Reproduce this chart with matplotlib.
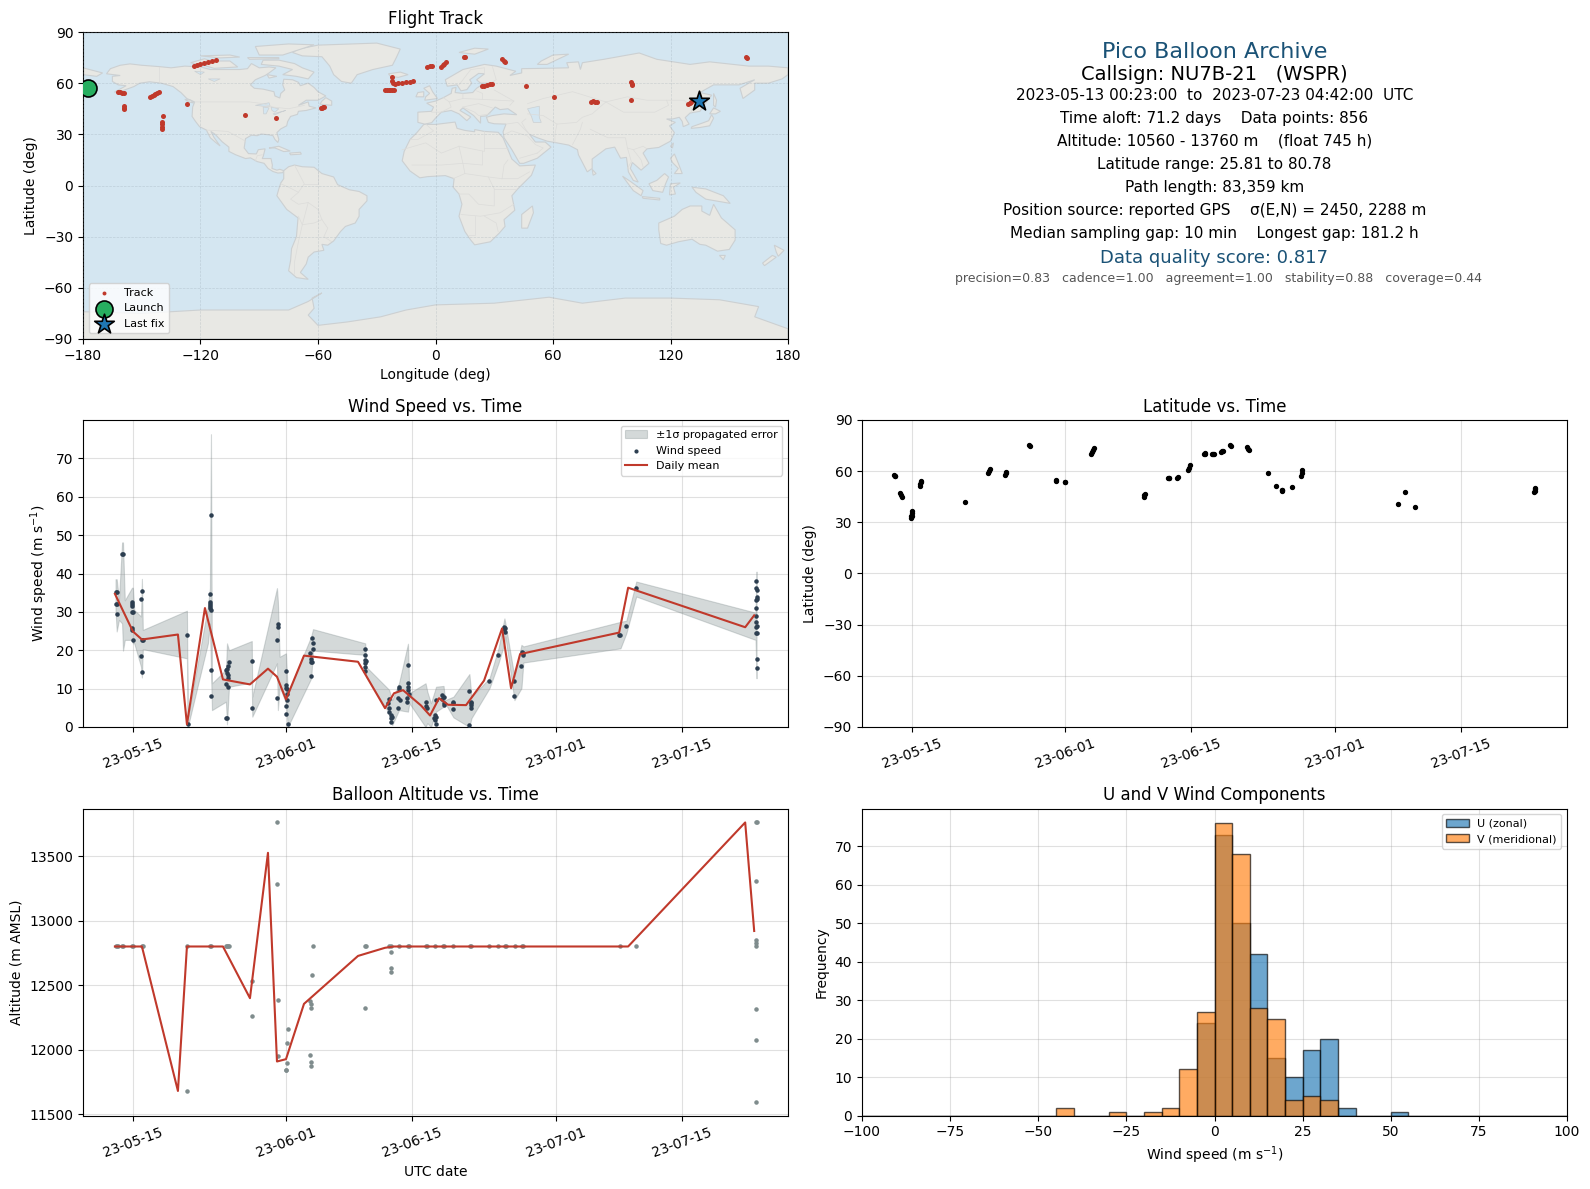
import datetime as dt
import matplotlib
matplotlib.use("Agg")
import matplotlib.pyplot as plt
import matplotlib.dates as mdates
from matplotlib.patches import Polygon
import numpy as np

W, H = 1590, 1189
BASE = mdates.date2num(dt.datetime(2023, 5, 1))
T0, T1 = 12.016, 83.196

# ---- wind (days after 2023-05-01, m/s)
wind_day = [12.07,12.2,12.07,12.2,12.2,12.8,12.9,13.9,13.9,13.9,13.9,14,13.9,13.9,14,14.9,15,14.9,15,15,15.1,20,20.1,
            22.67,22.55,22.55,22.55,22.55,22.55,22.67,22.67,22.67,24.33,24.55,24.67,24.45,24.55,24.33,24.55,24.33,24.45,24.55,24.45,
            27.2,27.2,30.1,30.1,30,30,31,31,31,31.1,31.1,31.1,31,31,31.2,33.67,33.9,34,34,33.8,33.8,33.9,33.8,
            39.8,39.8,39.8,39.9,39.8,39.8,39.8,42.45,42.33,42.45,42.45,42.67,42.8,42.67,42.67,43.45,43.45,43.55,43.55,43.67,
            44.55,44.55,44.55,44.55,44.67,44.45,44.45,46.6,46.6,46.7,
            47.55,47.67,47.45,47.55,47.67,47.67,48.37,48.5,48.37,48.5,48.5,49.6,49.6,49.6,51.37,51.6,51.5,51.6,51.5,51.37,
            53.6,54.6,55.26,55.37,55.26,55.37,56.37,56.37,57.15,57.26,57.37,57.37,68.04,68.15,68.8,69.9,
            83.15,83.15,83.26,83.15,83.26,83.26,83.15,83.15,83.15,83.26,83.15,83.15,83.26,83.26,83.26]
wind_spd = [35.1,35.1,32,32,29.4,45,45,32.5,32,31.5,29.9,29.9,25.7,25.2,22.6,33.3,35.4,18.4,14.3,22.6,22.6,23.9,0.7,
            55.2,34.6,32.5,32,31.5,31,30.4,14.8,8,14.8,15.8,16.9,14,12.7,11.1,10.5,2.3,2.3,13.5,15.2,
            17.1,4.9,26.8,26,22.6,7.5,14.5,10.9,10.1,9.8,8.5,7,5.4,3.3,0.7,19.2,23.1,21.8,20.3,17.7,16.9,16.9,13.2,
            20.3,18.7,17.5,17.1,16.6,15.6,14.5,7.2,6.2,4.9,4,3.1,2.7,2.3,1.2,4.9,7.5,10.3,9.8,7,
            16.1,11.4,10.5,9.7,8.5,7.5,6.6,6.6,5.4,4.9,
            3.1,2.7,2.3,1.8,0.7,7,8.3,7.9,7.4,6.2,5.7,6.6,6.2,4.6,9.3,6.6,6.2,5.7,4.9,0.4,
            11.9,18.7,26,25.7,25.5,24.7,11.9,8,15.8,19.5,19.2,18.7,23.9,23.9,26.3,36.2,
            38,36.2,35.7,33,33.8,33.3,31,28.9,27.3,26.3,26,24.4,24.4,17.7,15.3]

band_day = [12.07,12.2,12.45,12.8,12.9,13.1,13.9,14,14.15,14.9,15,15.1,20,20.1,22.33,22.55,22.67,22.78,24.33,24.45,24.67,
            27.2,27.26,30,30.1,30.3,31,31.2,33.8,34,39.8,39.9,42.45,42.8,43.55,44.55,44.7,46.5,46.7,
            47.1,47.67,48.5,48.67,49.6,51.37,51.6,53.6,54.6,55.26,55.37,56.37,57.15,57.37,68.15,68.8,69.9,83.15,83.26]
band_hi = [38.5,38.5,33.1,48.1,48.1,33,36.3,36.3,30.5,28.8,38.6,25.3,30.3,2.3,31.4,36.2,76.3,11.4,14.9,21.8,20,
           22.4,7.9,36.2,32.7,18.3,19.2,8.8,23.6,25.5,21.8,15.7,9.7,7,11.4,21.7,8.8,11.4,9.2,
           6.2,10.5,10.7,7,7.9,13.8,7.9,12.7,20.5,28.3,27,13.1,21.4,21,27.4,27.7,37.9,29.8,40.5]
band_lo = [30.5,24.9,27.9,27,19.9,22.7,22.7,21.8,21.8,15.7,12.9,20.3,17.9,0,21.8,27,14.9,4.4,6.6,0.7,10.5,
           11.6,2.7,16.6,4.4,10.5,6.2,0,12.7,19.9,18.8,13.1,3.6,0.5,4.4,4,6.2,0,1,
           0,4,5.3,6.2,2.5,0,2.3,10.1,16.6,21.8,23.6,7,10.1,16.8,20.5,24.4,34,22.7,12.7]

mean_day = [12,14,15,19,20,22,24,27,29,30,31,33,39,42,43,44,46,47,48,49,51,53,55,56,57,68,69,82,83]
mean_spd = [34.7,24.9,22.8,24.1,0.7,31,12.4,11.1,15.2,13.1,7.2,18.6,17,4.9,8.8,9.6,5.6,3,7.5,5.8,5.7,12.1,25.7,10.1,19,24.6,36.3,26,29.1]
mean_alt = [12800,12800,12800,11682,12800,12800,12800,12400,13525,11910,11928,12356,12727,12790,12800,12800,12800,12800,12800,12800,12800,12800,12800,12800,12800,12800,12800,13760,12920]

# ---- altitude points
alt_day = [12.1,12.2,12.3,12.8,12.9,13.9,14,15,15.1,20,22.55,22.67,24.33,24.45,24.55,24.67,34,39.8,39.9,42.45,42.67,43.55,44.55,44.67,46.6,46.7,
           47.5,48.4,48.5,49.6,51.4,51.6,53.6,54.6,55.3,55.4,56.4,57.2,57.3,68.1,69.9,
           30,30,27.2,27.2,20,30.1,31.2,31.1,30.1,31.1,31,31.03,33.67,33.8,33.8,33.9,33.67,33.8,33.8,39.8,42.67,42.67,42.67,
           83.15,83.26,83.2,83.2,83.2,83.2,83.2,83.2,83.2]
alt_m = [12800]*41 + [13760,13281,12531,12260,11681,12384,12160,12052,11956,11897,11843,11843,11959,11905,11874,12577,12382,12353,12322,12322,12760,12631,12600,
         13760,13760,13310,12850,12830,12805,12320,12080,11600]

# ---- latitude vs time
lat_day = [12.05,12.1,12.15,12.7,12.8,12.9,13.95,13.95,14,14,14.05,14.9,14.95,15,15.05,19.9,22.5,22.6,22.7,24.3,24.4,24.5,27.05,27.1,
           30,30.05,30.95,31,33.9,34,34.1,34.2,39.75,39.8,39.85,42.4,42.5,42.6,43.4,43.5,44.7,44.8,44.9,46.4,46.5,46.6,47.3,47.4,47.5,48.35,48.4,48.5,
           49.35,49.4,51.25,51.3,51.4,53.5,54.4,55.05,55.1,55.15,56.2,57.25,57.3,57.35,68,68.8,69.9,83.1,83.15,83.2,83.25]
lat_deg = [57.8,57.3,57,47,46.1,45,32.4,34,35.5,36.9,33.5,51.4,52.5,53.5,54.5,41.8,58.8,60.2,61.4,57.8,58.9,59.8,75.3,74.9,
           54.7,54.2,53.8,53.4,70,71,72.3,73.7,45,45.9,46.7,55.9,56,55.8,56,56.4,60.4,62,63.7,69.8,70.2,70.4,70,70.2,69.9,71,71.6,72,
           75.4,75,74.1,73.2,72.5,58.8,51.2,48.5,48.9,49.1,50.6,57.2,58.9,60.4,40.6,47.7,38.8,47.5,48.5,49.5,50.4]

# ---- flight track on map
trk_lon = [-162,-161,-160,-159,-159.3,-159.3,-159.3,-146,-145,-144,-143,-142,-141,-139,-139.8,-139.6,-139.9,-139.8,-127,
           -123.4,-122,-120,-118,-116,-114,-112,-97.4,-81.3,-58.5,-58,-57.5,-57,-26,-25,-24,-23,-22,-21,-22,-22,-21.5,-20.5,-19,-17,-15,-13,-11.5,
           -4.2,-3,-1.8,3,3.8,4.5,5.4,14.8,14.9,34,34.8,35.5,23.5,25,26.5,28,29,46.3,60.3,79.3,80.5,81.5,82.5,100,100.1,100.3,100,129,129.8,130.6,158.5,159]
trk_lat = [55,54.7,54.5,54.5,46.5,45.5,44.6,52,52.7,53.3,53.9,54.3,54.7,41,37.5,36,34.5,33,47.5,
           70,70.5,71,71.7,72.5,73,73.5,41.6,39.3,45.2,45.6,46,46.2,56,56,55.9,56,56,55.9,63.7,61.5,60.2,59.8,60,60.2,60.5,60.7,61,
           69.6,69.8,70,69.6,70.5,71.4,72.3,75.6,75.2,73.9,73.2,72.5,58.4,58.6,59,59.4,59.8,58.6,51.6,49.2,49.3,49.2,49.2,60.8,59.8,58.8,50.4,48,48.5,49,75.1,74.5]
launch_lon, launch_lat = [-177.6], [57.3]
last_lon, last_lat = [134.7], [49.8]

# ---- histogram
bin_edges = list(range(-100, 105, 5))
u_counts = {-5:24, 0:73, 5:50, 10:42, 15:15, 20:10, 25:17, 30:20, 35:2, 50:1}
v_counts = {-45:2, -30:1, -20:1, -15:2, -10:12, -5:27, 0:76, 5:68, 10:28, 15:25, 20:4, 25:5, 30:4}

# ---- map geometry
land = [
 [(-168,65.5),(-166,68.5),(-161,70.5),(-156,71.3),(-150,70.5),(-141,69.7),(-135,69),(-128,70),(-120,69.5),(-115,68),(-108,68),(-100,68),(-96,68.5),(-94,71.5),(-90,69),(-85,69.5),(-81.5,69),(-85,66),(-87,64.5),(-92,62),(-94.5,59),(-92.5,57),(-88,56.5),(-82.5,55),(-82,52.5),(-79.5,51.3),(-79,54),(-77,56),(-78,59),(-77.5,62.3),(-73,62),(-70,60.5),(-69,58.5),(-65,60),(-62,57.5),(-60,55),(-56,52.5),(-60,50),(-66,50),(-70,47),(-65,49),(-64.5,46.5),(-61,45.5),(-66,44),(-70,43.5),(-70.5,41.7),(-74,40.5),(-75.5,37.5),(-76,35),(-79,33.2),(-81,31),(-80,27),(-80.5,25.2),(-82,27),(-83,29.2),(-85,29.7),(-89,30.2),(-91,29.2),(-94,29.5),(-97,27.5),(-97.7,22),(-95.5,18.7),(-91.5,18.5),(-90.5,21),(-87,21.5),(-88,17),(-88.5,15.8),(-84,15.8),(-83.3,12),(-83.5,10),(-81,9),(-79.5,9.5),(-77.5,8.7),(-78,7.5),(-80.5,7.3),(-83,8.2),(-85.5,10),(-87.5,13),(-91,14),(-94.5,16.2),(-97,15.8),(-102,18),(-105.5,20),(-105.5,22.5),(-109,25.7),(-112.5,30),(-114.7,31.7),(-113,28),(-110,23.2),(-112,25),(-115,28),(-117,32.5),(-120.5,34.5),(-122.5,37.5),(-124.3,40.5),(-124,46),(-123,49),(-127,51),(-130,54.5),(-134,58),(-140,60),(-146,60.8),(-151,60),(-154,58),(-160,55.5),(-164,54.7),(-158,58.5),(-162,59),(-165,61),(-165,64),(-161,64.5)],
 [(-73,78),(-68,76),(-58,75.5),(-54,70),(-52,65),(-48,61),(-43,60),(-40,65),(-32,68),(-22,70.5),(-20,75),(-18,80),(-30,83.5),(-60,82.3),(-70,80)],
 [(-80,73.5),(-72,71.5),(-68,69),(-62,66.5),(-65,62.5),(-71,64),(-78,65),(-73,68),(-80,70),(-89,71),(-88,73.5)],
 [(-117,73),(-105,73),(-101,69.5),(-113,68.7),(-117,70)],
 [(-90,76.5),(-78,76.5),(-62,82.5),(-75,83),(-92,81.5)],
 [(-125,72),(-118,74.3),(-115,73.3),(-121,71)],
 [(-96,75),(-80,75),(-80,74.3),(-95,74)],
 [(-120,76),(-105,76.5),(-100,75.3),(-110,74.8)],
 [(-59,47.7),(-53,47),(-53,49.5),(-56,51.5),(-58,49.5)],
 [(-86,65),(-81,64),(-85,63)],
 [(-85,22),(-80,23),(-74.2,20.2),(-77.5,19.9),(-82,22)],
 [(-74.5,19),(-69,19.5),(-68.5,18.4),(-74,18)],
 [(-128,50.5),(-125,50),(-123.5,48.4),(-126,49)],
 [(-77.5,8.7),(-75,11),(-72,12),(-68,11),(-62,10.7),(-58,7),(-52,5),(-50,0.5),(-44,-2.5),(-39,-3.5),(-35,-6),(-35,-9),(-39,-14),(-39,-18),(-41,-22),(-46,-24),(-48.5,-27),(-52,-32.5),(-55,-35),(-58,-34.5),(-57,-38),(-62,-39),(-65,-42),(-66,-46),(-69,-51),(-65,-55),(-71,-54),(-75,-50),(-74,-44),(-73.5,-37),(-71,-30),(-70.2,-19),(-76,-14),(-81,-6),(-80,-2),(-79,1.5),(-77.5,4),(-77.5,7.5)],
 [(-6,35.8),(0,35.8),(10,37.2),(11,33.5),(15,32.3),(20,31.5),(20,32.8),(25,31.7),(32,31.2),(34.5,28),(37,21),(39,15.5),(43,11.5),(51,12),(49,6),(42,-2),(39,-6),(40.5,-14.5),(35,-20),(35.5,-24),(32.5,-28),(28,-33),(20,-34.8),(18,-32),(15,-27),(12,-18),(13.5,-11),(12,-5),(9,-1),(9.5,4),(5,5.8),(-4,5.2),(-8,4.5),(-13,8.5),(-17,14.5),(-16,20),(-13,27),(-9.5,31)],
 [(-9,37),(-9,43),(-2,43.5),(-1,46),(-4.5,48.3),(0,49.5),(4,51.5),(8,54),(8.5,57),(10.5,57.5),(10,54.5),(14,54),(19,54.5),(21,57),(24,59.3),(30,60),(23,60),(21,62),(25,65.5),(22,65.7),(17.5,62),(18.5,60),(16,56.2),(13,55.5),(11,59),(6,58.2),(5,62),(14,68),(25,71),(31,70),(41,67),(38,64.5),(44,66),(44,68.5),(55,68.7),(68,69),(67,72),(73,72.5),(74,68),(75,72),(86,74),(104,77.7),(113,74),(130,71),(140,72.5),(160,70),(170,70),(180,69),(180,65),(177,62.5),(170,60),(163,60),(163,56),(157,51),(155.5,57),(163,62),(155,59),(142,59),(135,54.5),(141,53),(135,43.5),(130,42.5),(127.5,39.8),(129.5,36),(126.5,34.5),(126,37.5),(124.5,40),(121,39),(118,39),(122.5,37),(119.5,35),(122,31),(120,26),(114,22.3),(108,21.5),(106,19),(109,13),(105,9),(100.5,13.5),(99.5,10),(103.5,2),(101,3),(98.5,8),(97.5,16.5),(94.5,16),(91.5,22.5),(87,21.5),(80,15.5),(80,10),(77.5,8),(73,18),(72.5,21),(68,23.7),(61,25.2),(57,26),(52,28),(48,30),(51,25.5),(56,25.5),(59,22.5),(52,16),(45,13),(43,13),(39,21),(35,28),(34.5,31.5),(36,36),(30,36.2),(27,37),(26,40),(29,41),(35,42),(41.5,41.5),(37,45),(33,44.5),(30.5,46),(28,43),(26,40.8),(23,40.5),(23,36.5),(19.5,41),(14,45.5),(12.5,44),(18,40.2),(16,38),(12,42),(8,44),(3,43),(0,39.5),(-2,36.8),(-5.5,36)],
 [(-5.5,50),(1,51),(-1.5,55),(-3,58.5),(-6,57),(-3,54),(-5,52)],
 [(-10,52),(-6,52),(-6,55),(-9,54.5)],
 [(-24,65.5),(-18,66.5),(-14,65),(-19,63.4),(-23,64)],
 [(12,78),(20,80.5),(27,80),(20,77)],
 [(52,71),(57,71),(68,77),(60,76.5),(54,73)],
 [(142,54),(143.5,50),(143,46),(142,47)],
 [(130.5,33.5),(135,34),(140,35),(142,39.5),(141,41.5),(139.5,38),(136,36.5),(131,34.5)],
 [(140,42),(142,45.5),(145.5,43.5),(143,42)],
 [(120,23),(121.5,25),(121,22)],
 [(120,16),(122,18.5),(124,13),(126,7),(122,7),(124,10),(121,13.5)],
 [(109,1),(113,3),(117,7),(119,5),(117.5,1),(116,-4),(111,-3)],
 [(95.5,5.5),(100,2),(106,-3),(105,-6),(101,-3)],
 [(105.5,-6.5),(114.5,-7.5),(114.5,-8.5),(106,-7.5)],
 [(120,1),(125,1.5),(121.5,-1),(122.5,-5),(119.5,-5.5)],
 [(131,-1),(138,-2),(147,-6),(150.5,-10.5),(143,-9),(138,-8),(133,-4)],
 [(114,-22),(122,-18),(126,-14),(130,-12),(136,-12),(136,-15),(140,-17.5),(142,-11),(146,-19),(153,-26),(153,-32),(150,-37.5),(144,-38.5),(138,-35),(135,-34.5),(131,-31.5),(124,-33),(118,-35),(115,-34),(114,-26)],
 [(145,-41),(148,-41),(147,-43.5)],
 [(173,-35),(178,-38),(175,-41.5),(174,-39)],
 [(172,-41),(174,-42),(168,-47),(167,-45.5)],
 [(49.5,-12),(50,-16),(47,-25),(44,-25),(44,-17)],
 [(80,9.5),(82,7),(80.5,6)],
 [(-180,69),(-175,67.5),(-170,66),(-173,64),(-180,65)],
 [(-180,-90),(-180,-74),(-150,-75),(-120,-73),(-100,-73),(-75,-73),(-65,-68),(-58,-63),(-63,-66),(-62,-72),(-65,-76),(-60,-82),(-45,-80),(-28,-77),(-15,-73),(0,-70),(30,-69),(58,-65.5),(75,-69),(97,-66),(120,-66),(145,-67),(165,-71),(163,-77),(180,-84),(180,-90)],
]
lakes = [
 [(47,45),(53,46.5),(53,40),(54,37),(50,37),(49,40.5)],
 [(-92,47),(-85,48.5),(-84.5,46.5),(-88,46.5)],
 [(-88,46),(-85,45.5),(-86.5,42),(-87.8,42)],
 [(-84,46),(-80,45),(-82,43),(-83.5,44)],
 [(-83,42),(-76.5,44),(-79,43),(-82,41.5)],
 [(-123,67),(-118,66.5),(-120,65)],
 [(-116,62.5),(-110,62.5),(-113,61)],
]
borders = [
 [(-141,69.7),(-141,60)],[(-123,49),(-95,49),(-88,48),(-83,46),(-75,45),(-67,47)],[(-117,32.5),(-106,31.7),(-97,26)],
 [(-92,14.5),(-91,17.5),(-88.5,18)],[(-72,12),(-67,1),(-70,-4),(-74,-8),(-70,-11),(-65,-10),(-60,-14),(-58,-20),(-55,-25),(-57,-30),(-53,-33)],
 [(-70,-18),(-68,-23),(-70,-33),(-72,-45),(-72,-52)],[(-79,1),(-75,-1),(-70,-4)],[(-60,8),(-60,1),(-67,1)],[(-65,-10),(-68,-23),(-62,-22),(-58,-20)],
 [(-5,36),(-1,32),(-9,27),(-13,27)],[(-17,21),(-5,25),(3,19),(12,23),(25,20),(25,31.7)],[(25,22),(37,22)],[(12,23),(14,13),(24,12),(24,20)],
 [(-12,12),(3,12),(14,13),(15,7),(9,4)],[(15,7),(27,5),(34,4),(42,4),(48,8)],[(34,4),(35,12),(37,15)],[(12,-5),(17,-5),(22,-11),(30,-12),(30,-2),(27,5)],
 [(30,-2),(41,-2)],[(13,-17),(23,-18),(33,-16),(40,-11)],[(20,-18),(20,-29),(17,-29)],[(25,-18),(31,-22),(32,-27)],
 [(-2,43),(3,43),(8,46),(7,49),(4,51.5)],[(7,49),(14,51),(14,54)],[(14,51),(24,50.5),(24,54),(21,55.5)],[(24,50.5),(40,49.5),(38,47)],[(14,46),(22,48),(29,45.5)],
 [(28,42),(22,41),(20,43),(14,46)],[(29,70),(31,62),(28,60)],[(12,59),(18,68),(25,69)],[(25,65.5),(25,69)],[(30,56),(40,49.5)],
 [(47,42),(55,41),(62,36),(72,37),(75,40),(80,42),(87,49),(70,55),(55,51),(47,48)],[(87,49),(98,52),(108,50),(118,50),(127,50),(131,45),(130.5,42.5)],
 [(87,49),(96,43),(112,43),(119,47),(118,50)],[(75,37),(74,33),(70,24)],[(62,36),(61,30),(61,25)],[(79,33),(88,28),(97,28),(98,22),(101,21),(106,23),(108,21.5)],
 [(36,36),(42,37),(48,30)],[(46,39),(44,37),(46,33),(48,30)],[(34.5,29.5),(39,32),(47,29),(51,24),(55,22),(52,19)],[(43,16),(52,19)],[(98,22),(100,14),(98,10)],[(101,21),(105,15),(106,11)],
]

def pix(left, top, right, bottom):
    return [left / W, 1 - bottom / H, (right - left) / W, (bottom - top) / H]

LAND, OCEAN, COAST = "#e8e8e4", "#d4e6f1", "#ccd0d2"
NAVY, RED, SLATE, GRAY = "#1a5276", "#c0392b", "#2c3e50", "#7f8c8d"
LX0, LX1, RX0, RX1 = 83, 788, 862, 1567
R1 = (32, 339); R2 = (420, 727); R3 = (808.5, 1115.5)

fig = plt.figure(figsize=(W / 100, H / 100), dpi=100)
ax_map = fig.add_axes(pix(LX0, R1[0], LX1, R1[1]))
ax_wind = fig.add_axes(pix(LX0, R2[0], LX1, R2[1]))
ax_lat = fig.add_axes(pix(RX0, R2[0], RX1, R2[1]))
ax_alt = fig.add_axes(pix(LX0, R3[0], LX1, R3[1]))
ax_hist = fig.add_axes(pix(RX0, R3[0], RX1, R3[1]))

# map
ax_map.set_facecolor(OCEAN)
for poly in land:
    ax_map.add_patch(Polygon(poly, closed=True, fc=LAND, ec=COAST, lw=0.8, zorder=1))
for poly in lakes:
    ax_map.add_patch(Polygon(poly, closed=True, fc=OCEAN, ec=COAST, lw=0.5, zorder=1.1))
for line in borders:
    xs, ys = zip(*line)
    ax_map.plot(xs, ys, color="#dcdcda", lw=0.5, zorder=1.2)
ax_map.scatter(trk_lon, trk_lat, s=13, color=RED, lw=0, label="Track", zorder=3)
ax_map.scatter(launch_lon, launch_lat, s=150, color="#27ae60", edgecolor="black", lw=1.2, label="Launch", zorder=4)
ax_map.scatter(last_lon, last_lat, s=220, marker="*", color="#1f77b4", edgecolor="black", lw=1.2, label="Last fix", zorder=4)
ax_map.set_xlim(-180, 180); ax_map.set_ylim(-90, 90)
ax_map.set_xticks(range(-180, 181, 60)); ax_map.set_yticks(range(-90, 91, 30))
ax_map.set_xticklabels(["\u2212180","\u2212120","\u221260","0","60","120","180"])
ax_map.grid(True, ls="--", lw=0.5, color="#8a9aa5", alpha=0.3, zorder=2)
ax_map.set_axisbelow(False)
ax_map.set_title("Flight Track", fontsize=12)
ax_map.set_xlabel("Longitude (deg)"); ax_map.set_ylabel("Latitude (deg)")
leg = ax_map.legend(loc="lower left", fontsize=8, framealpha=0.8)
leg.legend_handles[0].set_sizes([8])

def date_axis(ax):
    ax.set_xlim(BASE + T0 - 0.05 * (T1 - T0), BASE + T1 + 0.05 * (T1 - T0))
    ax.xaxis.set_major_locator(mdates.DayLocator(bymonthday=[1, 15]))
    ax.xaxis.set_major_formatter(mdates.DateFormatter("%y-%m-%d"))
    ax.tick_params(axis="x", labelrotation=20)
    ax.grid(True, alpha=0.3, color="#999999")
    ax.set_axisbelow(True)

def d(days):
    return BASE + np.asarray(days, float)

# wind
ax_wind.fill_between(d(band_day), band_lo, band_hi, facecolor=GRAY, edgecolor=GRAY, alpha=0.33, lw=0.8, label="\u00b11\u03c3 propagated error")
ax_wind.scatter(d(wind_day), wind_spd, s=5, color=SLATE, label="Wind speed", zorder=3)
ax_wind.plot(d(mean_day), mean_spd, color=RED, lw=1.5, label="Daily mean", zorder=4)
date_axis(ax_wind)
ax_wind.set_ylim(0, 80)
ax_wind.set_yticks(range(0, 71, 10))
ax_wind.set_ylabel("Wind speed (m s$^{-1}$)")
ax_wind.set_title("Wind Speed vs. Time", fontsize=12)
leg2 = ax_wind.legend(loc="upper right", fontsize=8)
leg2.legend_handles[1].set_sizes([4])

# latitude
ax_lat.scatter(d(lat_day), lat_deg, s=8, color="black", zorder=3)
date_axis(ax_lat)
ax_lat.set_ylim(-90, 90)
ax_lat.set_yticks(range(-90, 91, 30))
ax_lat.set_ylabel("Latitude (deg)")
ax_lat.set_title("Latitude vs. Time", fontsize=12)

# altitude
ax_alt.scatter(d(alt_day), alt_m, s=5, color=GRAY, zorder=3)
ax_alt.plot(d(mean_day), mean_alt, color=RED, lw=1.5, zorder=4)
date_axis(ax_alt)
ax_alt.set_ylim(11492, 13868)
ax_alt.set_yticks(range(11500, 13501, 500))
ax_alt.set_xlabel("UTC date"); ax_alt.set_ylabel("Altitude (m AMSL)")
ax_alt.set_title("Balloon Altitude vs. Time", fontsize=12)

# histogram
edges = np.array(bin_edges[:-1])
u = [u_counts.get(int(e), 0) for e in edges]
v = [v_counts.get(int(e), 0) for e in edges]
ax_hist.bar(edges, u, width=5, align="edge", color="#1f77b4", alpha=0.65, edgecolor="black", lw=1, label="U (zonal)")
ax_hist.bar(edges, v, width=5, align="edge", color="#ff7f0e", alpha=0.65, edgecolor="black", lw=1, label="V (meridional)")
ax_hist.set_xlim(-100, 100)
ax_hist.set_ylim(0, 79.8)
ax_hist.set_yticks(range(0, 71, 10))
ax_hist.grid(True, alpha=0.3, color="#999999")
ax_hist.set_axisbelow(True)
ax_hist.set_xlabel("Wind speed (m s$^{-1}$)"); ax_hist.set_ylabel("Frequency")
ax_hist.set_title("U and V Wind Components", fontsize=12)
ax_hist.legend(loc="upper right", fontsize=8)

# summary text
cx = (RX0 + RX1) / 2 / W
summary = [
 (52, "Pico Balloon Archive", 16, NAVY, 0),
 (74, "Callsign: NU7B-21   (WSPR)", 14, "black", 0),
 (95, "2023-05-13 00:23:00  to  2023-07-23 04:42:00  UTC", 11, "black", 0),
 (118.5, "Time aloft: 71.2 days    Data points: 856", 11, "black", 0),
 (141, "Altitude: 10560 - 13760 m    (float 745 h)", 11, "black", 0),
 (164, "Latitude range: 25.81 to 80.78", 11, "black", 0),
 (187.5, "Path length: 83,359 km", 11, "black", 0),
 (210.5, "Position source: reported GPS    \u03c3(E,N) = 2450, 2288 m", 11, "black", 0),
 (233.5, "Median sampling gap: 10 min    Longest gap: 181.2 h", 11, "black", 0),
 (258, "Data quality score: 0.817", 13, NAVY, 0),
 (278.5, "precision=0.83   cadence=1.00   agreement=1.00   stability=0.88   coverage=0.44", 9, "#555555", 4),
]
for y, txt, fs, col, dx in summary:
    fig.text(cx + dx / W, 1 - y / H, txt, ha="center", va="center", fontsize=fs, color=col)

fig.savefig("out.png", dpi=100)
